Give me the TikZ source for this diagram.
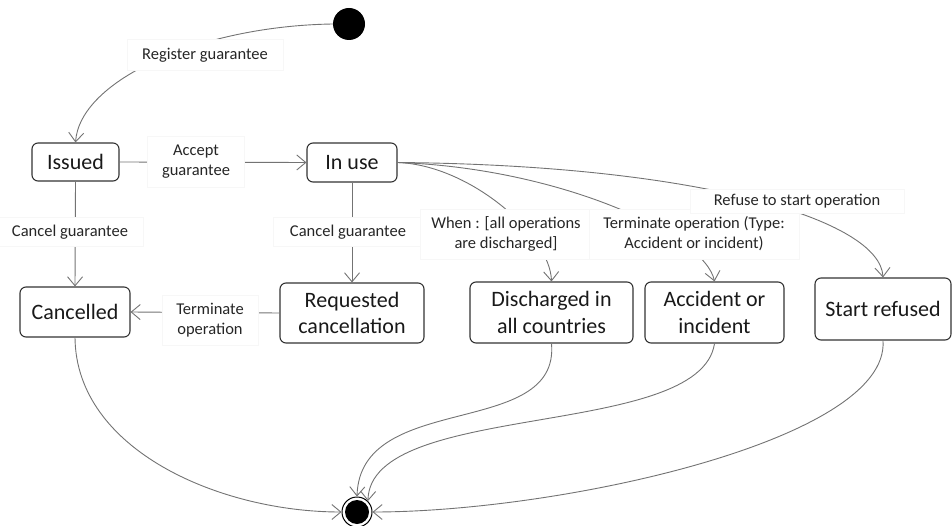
\documentclass[tikz,border=0pt]{standalone}
\usepackage{fontspec}
\setmainfont{Carlito}
\usetikzlibrary{arrows.meta}
\begin{document}
\begin{tikzpicture}[x=1pt,y=-1pt,
  statebox/.style={draw=black!80, line width=1.1pt, rounded corners=6pt, align=center,
    inner sep=0pt, font=\fontsize{22}{26.5}\selectfont, text=black!90},
  lbl/.style={fill=white, draw=black!3, line width=0.4pt, align=center, inner sep=3pt,
    font=\fontsize{16.5}{20}\selectfont, text=black!85},
  conn/.style={draw=black!55, line width=0.9pt, -{Straight Barb[length=9pt,width=15pt]}}
]
\useasboundingbox (0,0) rectangle (952,526);
% initial and final
\node[circle, fill=black, minimum size=32pt, inner sep=0pt] (start) at (349,24) {};
\node[circle, draw=black, line width=1pt, minimum size=30pt, inner sep=0pt] (end) at (357,512) {};
\fill[black] (357,512) circle (12pt);
% states
\node[statebox, minimum width=87pt, minimum height=38pt] (issued) at (75.5,162) {Issued};
\node[statebox, minimum width=90pt, minimum height=39pt] (inuse) at (352,162.5) {In use};
\node[statebox, minimum width=110pt, minimum height=50pt] (cancelled) at (75,312) {Cancelled};
\node[statebox, minimum width=144pt, minimum height=60pt] (req) at (352,313) {Requested\\cancellation};
\node[statebox, minimum width=163pt, minimum height=61pt] (dis) at (551.5,312.5) {Discharged in\\all countries};
\node[statebox, minimum width=139pt, minimum height=61pt] (acc) at (714.5,312.5) {Accident or\\incident};
\node[statebox, minimum width=136pt, minimum height=62pt] (sr) at (883,309) {Start refused};
% connectors
\draw[conn] (start.west) .. controls (200,26) and (80,80) .. (issued.north);
\draw[conn] (issued.east) -- (inuse.west);
\draw[conn] (issued.south) -- (cancelled.north);
\draw[conn] (inuse.south) -- (req.north);
\draw[conn] (req.west) -- (cancelled.east);
\draw[conn] (inuse.east) .. controls (470,165) and (550,235) .. (dis.north);
\draw[conn] (inuse.east) .. controls (560,168) and (705,235) .. (acc.north);
\draw[conn] (inuse.east) .. controls (700,165) and (880,220) .. (sr.north);
\draw[conn] (cancelled.south) .. controls (76,450) and (220,512) .. (end.west);
\draw[conn] (dis.south) .. controls (560,440) and (360,390) .. (end.north);
\draw[conn] (acc.south) .. controls (700,440) and (370,400) .. (end.north east);
\draw[conn] (sr.south) .. controls (890,440) and (560,512) .. (end.east);
% labels
\node[lbl, minimum width=156pt, minimum height=31pt] (l1) at (205,55) {Register guarantee};
\node[lbl, minimum width=97pt, minimum height=51pt] (l2) at (196,162) {Accept\\guarantee};
\node[lbl, minimum width=146pt, minimum height=29pt] (l3) at (70,232) {Cancel guarantee};
\node[lbl, minimum width=150pt, minimum height=29pt] (l4) at (348,232) {Cancel guarantee};
\node[lbl, minimum width=96pt, minimum height=50pt] (l5) at (210,320) {Terminate\\operation};
\node[lbl, minimum width=172pt, minimum height=50pt] (l6) at (506,234) {When : [all operations\\are discharged]};
\node[lbl, minimum width=210pt, minimum height=50pt] (l7) at (694,234) {Terminate operation (Type:\\Accident or incident)};
\node[lbl, minimum width=214pt, minimum height=24pt] (l8) at (797,201) {Refuse to start operation};
\end{tikzpicture}
\end{document}
